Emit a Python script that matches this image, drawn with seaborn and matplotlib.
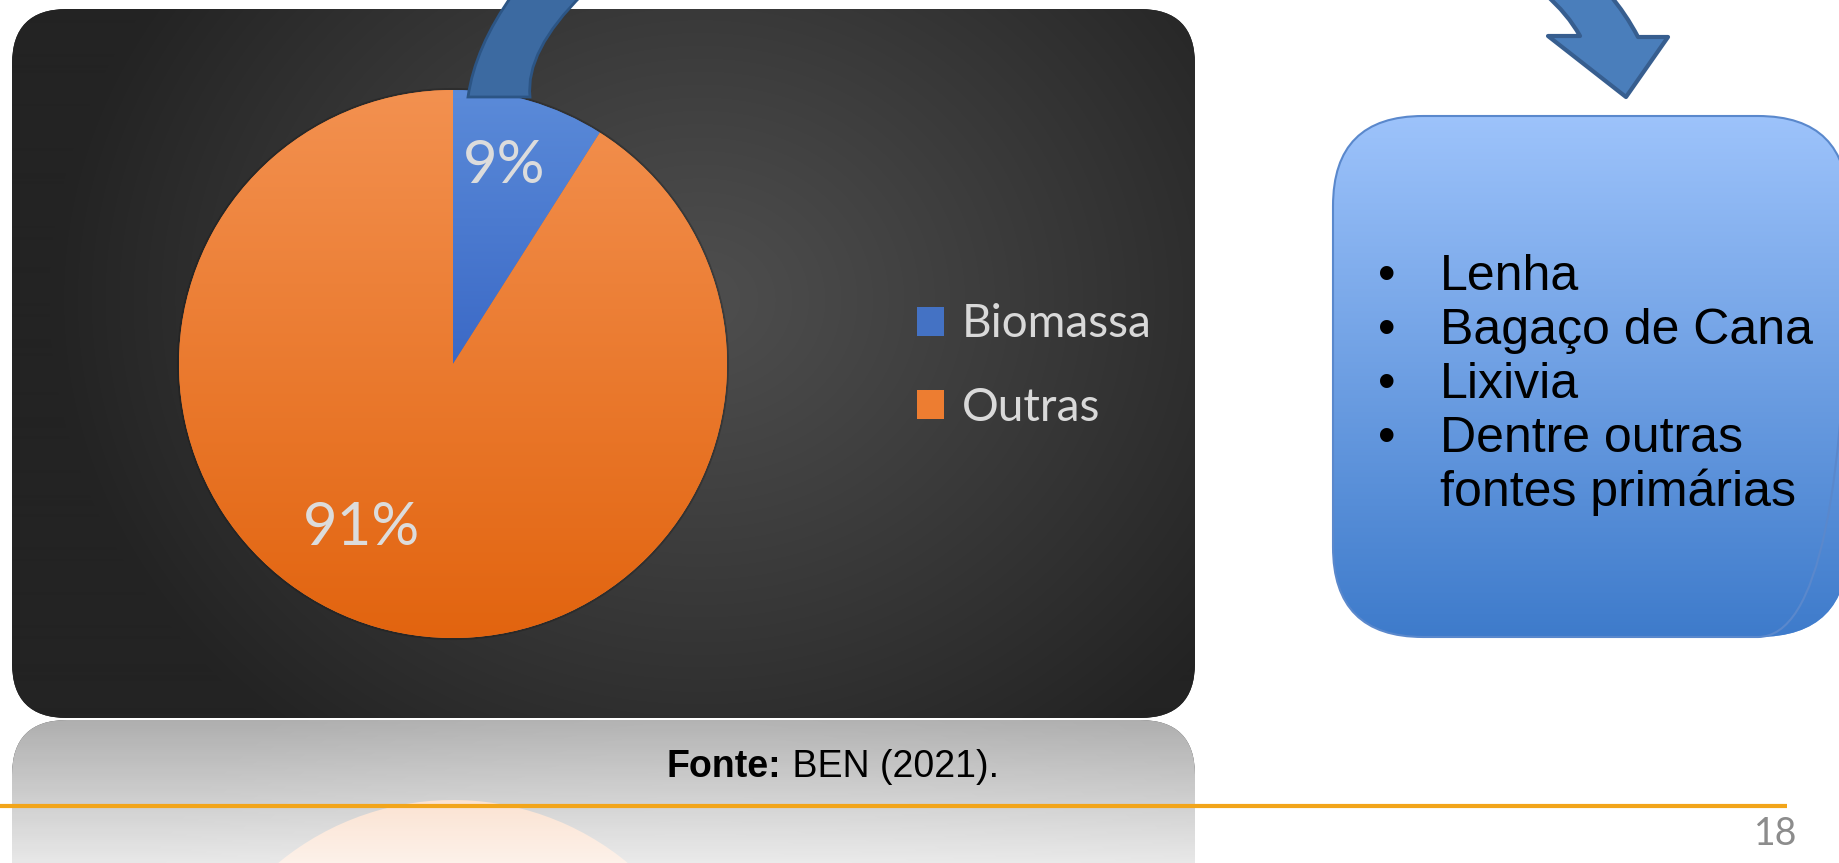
import numpy as np
import matplotlib.pyplot as plt
import seaborn as sns
from matplotlib.patches import FancyBboxPatch, PathPatch, Circle
from matplotlib.path import Path
from matplotlib.colors import to_rgb

sns.set_style('white')
plt.rcParams['font.family'] = ['Liberation Sans', 'DejaVu Sans']

# data
categories = ['Biomassa', 'Outras']
shares = [9, 91]
share_labels = ['9%', '91%']
pie_colors = ['#4472c4', '#ed7d31']
box_items = ['Lenha', 'Bagaço de Cana', 'Lixivia', 'Dentre outras\nfontes primárias']
source_bold = 'Fonte:'
source_rest = ' BEN (2021).'
page_number = '18'

# layout (pixels)
W, H = 1839, 863
CX, CY, R = 453, 364, 274
px0, py0, px1, py1 = 12, 9, 1195, 718
mirror_y = 719


def lerp(c0, c1, t):
    c0, c1 = np.array(to_rgb(c0)), np.array(to_rgb(c1))
    t = np.clip(t, 0, 1)[..., None]
    return c0 + (c1 - c0) * t


def gradient_fill(ax, img, extent, clip, zorder):
    im = ax.imshow(img, extent=extent, origin='upper', aspect='auto',
                   interpolation='bilinear', zorder=zorder)
    im.set_clip_path(clip)
    return im


def vgrad(ctop, cbot, n=256):
    t = np.linspace(0, 1, n)[:, None]
    return lerp(ctop, cbot, t)


fig = plt.figure(figsize=(W / 100, H / 100), dpi=100)
bg = fig.add_axes([0, 0, 1, 1])
bg.axis('off')

# dark chart panel with radial shading
panel = FancyBboxPatch((px0, py0), px1 - px0, py1 - py0,
                       boxstyle='round,pad=0,rounding_size=55',
                       fc='#2b2b2b', ec='none', zorder=1)
bg.add_patch(panel)
yy, xx = np.mgrid[py0:py1, px0:px1]
d = np.hypot((xx - 700) / 650, (yy - 300) / 560)
panel_rgb = lerp('#4e4e4e', '#232323', d ** 1.1)
gradient_fill(bg, panel_rgb, (px0, px1, py1, py0), panel, 2)

# reflection below the panel
ry0 = mirror_y + 1
refl = FancyBboxPatch((px0, ry0), px1 - px0, py1 - py0,
                      boxstyle='round,pad=0,rounding_size=55',
                      fc='#cccccc', ec='none', zorder=1)
bg.add_patch(refl)
gradient_fill(bg, panel_rgb[::-1][:H - ry0], (px0, px1, H, ry0), refl, 2)

rwedges, _ = bg.pie(shares, colors=pie_colors, startangle=90, counterclock=False,
                    center=(CX, 2 * mirror_y - CY), radius=R,
                    wedgeprops=dict(linewidth=0, zorder=3))
ny = H - ry0
overlay = np.ones((ny, 2, 4))
overlay[..., 3] = np.linspace(0.64, 0.9, ny)[:, None]
gradient_fill(bg, overlay, (px0, px1, H, ry0), refl, 4)

# main pie
wedges, _ = bg.pie(shares, colors=pie_colors, startangle=-90, counterclock=True,
                   center=(CX, CY), radius=R,
                   wedgeprops=dict(linewidth=0, zorder=5))
bg.add_patch(Circle((CX, CY), R + 1, fc='none', ec='#161616', lw=1.5,
                    alpha=0.3, zorder=4.5))
gradient_fill(bg, vgrad('#5b8bd9', '#3b69c6'), (CX - R, CX + R, CY, CY - R),
              wedges[0], 6)
gradient_fill(bg, vgrad('#f39150', '#e2640f'), (CX - R, CX + R, CY + R, CY - R),
              wedges[1], 6)

label_pos = [(504, 183), (362, 545)]
for txt, (x, y) in zip(share_labels, label_pos):
    bg.text(x, y, txt, ha='center', va='baseline', color='#dcdcdc',
            fontsize=43, family=['Lato', 'DejaVu Sans'], zorder=8)

bg.legend(wedges, categories, loc='center left', bbox_to_anchor=(917, 366),
          bbox_transform=bg.transData, frameon=False,
          prop={'family': 'Lato', 'size': 33}, labelcolor='#d9d9d9',
          handlelength=0.6, handleheight=0.6, handletextpad=0.37,
          labelspacing=0.9, borderpad=0, borderaxespad=0)

# arrows
MO, C3, LI, CL = Path.MOVETO, Path.CURVE3, Path.LINETO, Path.CLOSEPOLY
left_arrow = Path([(513, -6), (475, 47), (468, 97), (530, 97), (525, 51),
                   (583, -6), (513, -6)],
                  [MO, C3, C3, LI, C3, C3, CL])
bg.add_patch(PathPatch(left_arrow, fc='#3c6aa1', ec='#2c5585', lw=2, zorder=9))
right_arrow = Path([(1545, -6), (1568, 14), (1580, 36), (1548, 36), (1626, 97),
                    (1668, 37), (1638, 37), (1626, 14), (1609, -6), (1545, -6)],
                   [MO, C3, C3, LI, LI, LI, LI, C3, C3, CL])
bg.add_patch(PathPatch(right_arrow, fc='#4a7ebb', ec='#375e8f', lw=3,
                       joinstyle='round', zorder=9))

# blue list box
bx0, by0, bx1, by1 = 1333, 116, 1848, 637
box = FancyBboxPatch((bx0, by0), bx1 - bx0, by1 - by0,
                     boxstyle='round,pad=0,rounding_size=90',
                     fc='#6a9be0', ec='none', zorder=1)
bg.add_patch(box)
gradient_fill(bg, vgrad('#9dc3fb', '#3e7bcb'), (bx0, bx1, by1, by0), box, 2)
bg.add_patch(FancyBboxPatch((bx0, by0), bx1 - bx0, by1 - by0,
                            boxstyle='round,pad=0,rounding_size=90',
                            fc='none', ec='#5a88cc', lw=1.5, zorder=3))

row = 0
for item in box_items:
    for j, line in enumerate(item.split('\n')):
        yb = 290 + 54 * row
        if j == 0:
            bg.text(1378, yb, '•', ha='left', va='baseline', fontsize=36,
                    color='black', zorder=5)
        bg.text(1440, yb, line, ha='left', va='baseline', fontsize=36,
                color='black', zorder=5)
        row += 1

# source, rule and page number
t_bold = bg.text(667, 777, source_bold, ha='left', va='baseline', fontsize=27,
                 fontweight='bold', color='black', zorder=8)
bg.annotate(source_rest, xy=(1, 0), xycoords=t_bold, ha='left', va='bottom',
            fontsize=27, color='black', zorder=8)
bg.hlines(806, 0, 1787, color='#f2a51a', lw=3, zorder=7)
bg.text(1797, 845, page_number, ha='right', va='baseline', fontsize=27,
        family=['Lato', 'DejaVu Sans'], color='#8c8c8c', zorder=8)

bg.set_aspect('auto')
bg.set_xlim(0, W)
bg.set_ylim(H, 0)
fig.savefig('out.png', dpi=100)
